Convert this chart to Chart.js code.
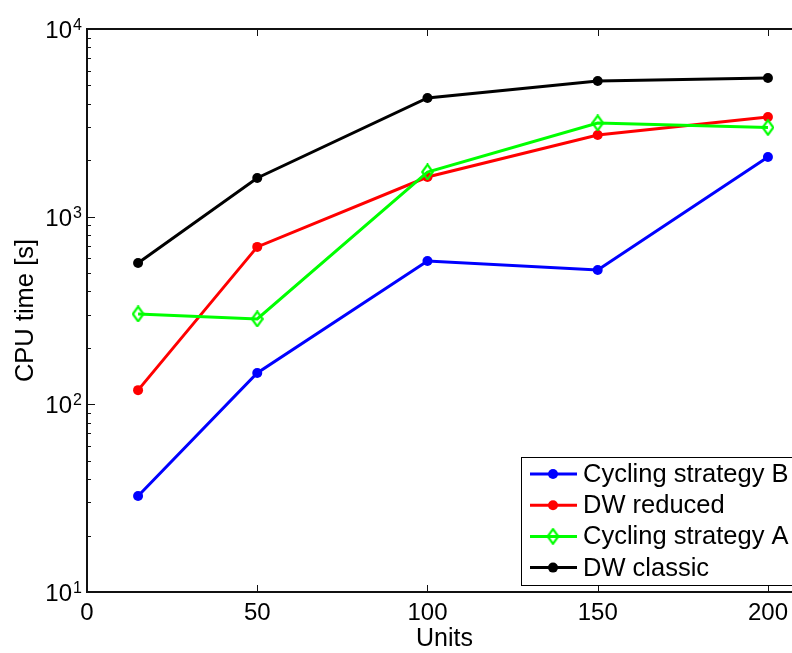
<!DOCTYPE html>
<html>
<head>
<meta charset="utf-8">
<script src="https://cdn.jsdelivr.net/npm/chart.js@4.4.1/dist/chart.umd.min.js"></script>
<style>
  html, body { margin: 0; padding: 0; background: #fff; overflow: hidden; }
  #wrap { width: 830px; height: 653px; }
</style>
</head>
<body>
<div id="wrap"><canvas id="cpu-chart" width="830" height="653"></canvas></div>
<script>
// data
const units = [15, 50, 100, 150, 200];
const cyclingB = [32.5, 147, 581, 520, 2080];
const dwReduced = [119, 690, 1627, 2725, 3398];
const cyclingA = [303, 285, 1730, 3157, 2987];
const dwClassic = [566, 1607, 4290, 5284, 5483];

const xTicks = [0, 50, 100, 150, 200];
const yTicks = [10, 100, 1000, 10000];
const yExp = ["1", "2", "3", "4"];

const FONT = '"Liberation Sans", Arial, sans-serif';

function diamond(color) {
  const c = document.createElement('canvas');
  c.width = 13; c.height = 17;
  const g = c.getContext('2d');
  g.strokeStyle = color;
  g.lineWidth = 2.2;
  g.beginPath();
  g.moveTo(6.5, 1.2);
  g.lineTo(11.8, 8.5);
  g.lineTo(6.5, 15.8);
  g.lineTo(1.2, 8.5);
  g.closePath();
  g.stroke();
  return c;
}
const greenDiamond = diamond('#00ff00');

function pts(vals) {
  return units.map((u, i) => ({ x: u, y: vals[i] }));
}

const series = [
  { label: 'Cycling strategy B', color: '#0000ff', vals: cyclingB, marker: 'circle' },
  { label: 'DW reduced', color: '#ff0000', vals: dwReduced, marker: 'circle' },
  { label: 'Cycling strategy A', color: '#00ff00', vals: cyclingA, marker: greenDiamond },
  { label: 'DW classic', color: '#000000', vals: dwClassic, marker: 'circle' }
];

// axes, ticks, labels and legend drawn matlab style
const matlabAxes = {
  id: 'matlabAxes',
  afterDraw(chart) {
    const ctx = chart.ctx;
    const a = chart.chartArea;
    const x = chart.scales.x, y = chart.scales.y;
    ctx.save();
    ctx.strokeStyle = '#111';
    ctx.fillStyle = '#000';

    function seg(x1, y1, x2, y2) {
      ctx.beginPath(); ctx.moveTo(x1, y1); ctx.lineTo(x2, y2); ctx.stroke();
    }

    ctx.lineWidth = 1;
    xTicks.forEach(v => {
      const px = Math.round(x.getPixelForValue(v)) + 0.5;
      seg(px, a.bottom, px, a.bottom - 7);
      seg(px, a.top, px, a.top + 7);
    });
    for (let d = 10; d < 10000; d *= 10) {
      for (let m = 1; m <= 9; m++) {
        const py = Math.round(y.getPixelForValue(d * m)) + 0.5;
        const len = m === 1 ? 8 : 4;
        seg(a.left, py, a.left + len, py);
      }
    }

    // box (right side falls outside the picture)
    ctx.lineWidth = 2;
    seg(a.left, a.top, a.right, a.top);
    seg(a.left, a.bottom, a.right, a.bottom);
    seg(a.left, a.top - 1, a.left, a.bottom + 1);

    // x tick labels
    ctx.font = '24px ' + FONT;
    ctx.textAlign = 'center';
    ctx.textBaseline = 'alphabetic';
    xTicks.forEach(v => {
      ctx.fillText(String(v), x.getPixelForValue(v), a.bottom + 28);
    });
    ctx.font = '25px ' + FONT;
    ctx.fillText('Units', (a.left + a.right) / 2, a.bottom + 54);

    // y tick labels 10^n
    yTicks.forEach((v, i) => {
      const py = y.getPixelForValue(v);
      ctx.font = '24px ' + FONT;
      ctx.textAlign = 'right';
      ctx.fillText('10', a.left - 15, py + 9);
      ctx.font = '16px ' + FONT;
      ctx.textAlign = 'left';
      ctx.fillText(yExp[i], a.left - 14, py + 1);
    });

    // y title
    ctx.save();
    ctx.translate(33, (a.top + a.bottom) / 2);
    ctx.rotate(-Math.PI / 2);
    ctx.font = '25.5px ' + FONT;
    ctx.textAlign = 'center';
    ctx.fillText('CPU time [s]', 0, 0);
    ctx.restore();

    // legend
    const lx = 521, ly = 457, rowH = 31.2;
    ctx.fillStyle = '#fff';
    ctx.fillRect(lx, ly, 300, 128);
    ctx.lineWidth = 1;
    ctx.strokeStyle = '#000';
    seg(lx + 0.5, ly + 0.5, lx + 300, ly + 0.5);
    seg(lx + 0.5, ly + 128.5, lx + 300, ly + 128.5);
    seg(lx + 0.5, ly, lx + 0.5, ly + 129);
    series.forEach((s, i) => {
      const ry = ly + 17 + i * rowH;
      ctx.strokeStyle = s.color;
      ctx.lineWidth = 3;
      seg(530, ry, 577, ry);
      if (s.marker === 'circle') {
        ctx.fillStyle = s.color;
        ctx.beginPath(); ctx.arc(553, ry, 5, 0, Math.PI * 2); ctx.fill();
      } else {
        ctx.drawImage(s.marker, 553 - s.marker.width / 2, ry - s.marker.height / 2);
      }
      ctx.fillStyle = '#000';
      ctx.font = '25.5px ' + FONT;
      ctx.textAlign = 'left';
      ctx.textBaseline = 'middle';
      ctx.fillText(s.label, 583, ry + 1);
      ctx.textBaseline = 'alphabetic';
    });
    ctx.restore();
  }
};

new Chart(document.getElementById('cpu-chart'), {
  type: 'line',
  data: {
    datasets: series.map((s, i) => ({
      label: s.label,
      data: pts(s.vals),
      borderColor: s.color,
      backgroundColor: s.color,
      borderWidth: 3,
      pointStyle: s.marker,
      pointRadius: 5,
      pointBorderWidth: 0,
      pointBackgroundColor: s.color,
      tension: 0,
      order: 4 - i
    }))
  },
  options: {
    responsive: false,
    animation: false,
    // x runs 0..210, so the plot box ends just past the right edge of the page
    layout: { padding: { left: 87, top: 29, right: 28, bottom: 61 } },
    plugins: { legend: { display: false }, tooltip: { enabled: false } },
    scales: {
      x: { type: 'linear', min: 0, max: 210, display: false },
      y: { type: 'logarithmic', min: 10, max: 10000, display: false }
    }
  },
  plugins: [matlabAxes]
});
</script>
</body>
</html>
